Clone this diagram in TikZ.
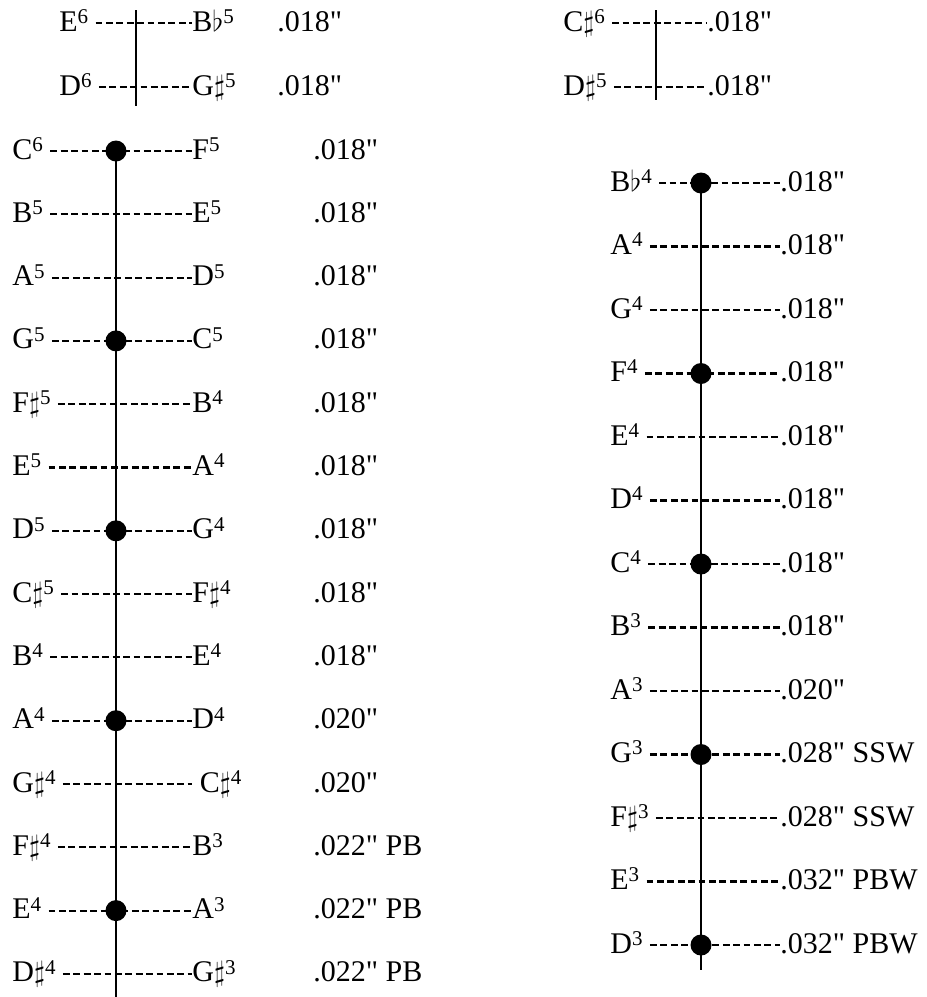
\documentclass[tikz,border=0pt]{standalone}
\usepackage{fontspec}
\setmainfont{Liberation Serif}[Ligatures=TeXOff]
\usetikzlibrary{positioning}
\newcommand{\oct}[1]{\raisebox{3.8pt}{\fontsize{10.5}{10}\selectfont#1}}
\newcommand{\shp}{$\sharp$}
\newcommand{\flt}{$\flat$}

\begin{document}
\begin{tikzpicture}[x=0.5pt, y=-0.5pt,
    lab/.style={inner sep=0pt, font=\fontsize{15}{18}\selectfont, anchor=base west},
    dashline/.style={dash pattern=on 3.4pt off 1.8pt, line width=1.05pt, shorten <=3.5pt},
    stem/.style={line width=1.35pt},
    dot/.style={circle, fill=black, inner sep=0pt, minimum size=10.5pt}]
    \useasboundingbox (0,0) rectangle (927,997);

    % top left pair
    \coordinate (tlt) at (136,10);
    \coordinate (tlb) at (136,106);
    \draw[stem] (tlt) -- (tlb);
    \foreach \i/\a/\b in {0/E\oct{6}/B\flt\oct{5}, 1/D\oct{6}/G\shp\oct{5}}{
      \node[lab] (tl\i) at (59,23+64*\i+8) {\a};
      \node[lab] (tr\i) at (192,23+64*\i+8) {\b};
      \node[lab] (tw\i) at (277,23+64*\i+8) {.018"};
      \draw[dashline] ([yshift=4pt]tl\i.base east) -- ([yshift=4pt]tr\i.base west);
    }

    % top right pair
    \coordinate (trt) at (656,10);
    \coordinate (trb) at (656,100);
    \draw[stem] (trt) -- (trb);
    \foreach \i/\a in {0/C\shp\oct{6}, 1/D\shp\oct{5}}{
      \node[lab] (ul\i) at (563,23+64*\i+8) {\a};
      \node[lab] (uw\i) at (707,23+64*\i+8) {.018"};
      \draw[dashline] ([yshift=4pt]ul\i.base east) -- ([yshift=4pt]uw\i.base west);
    }

    % left column
    \coordinate (lst) at (116,151);
    \coordinate (lsb) at (116,997);
    \draw[stem] (lst) -- (lsb);
    \foreach \i/\a/\b/\w in {0/C\oct{6}/F\oct{5}/.018",
        1/B\oct{5}/E\oct{5}/.018",
        2/A\oct{5}/D\oct{5}/.018",
        3/G\oct{5}/C\oct{5}/.018",
        4/F\shp\oct{5}/B\oct{4}/.018",
        5/E\oct{5}/A\oct{4}/.018",
        6/D\oct{5}/G\oct{4}/.018",
        7/C\shp\oct{5}/F\shp\oct{4}/.018",
        8/B\oct{4}/E\oct{4}/.018",
        9/A\oct{4}/D\oct{4}/.020",
        10/G\shp\oct{4}/\ C\shp\oct{4}/.020",
        11/F\shp\oct{4}/B\oct{3}/.022" PB,
        12/E\oct{4}/A\oct{3}/.022" PB,
        13/D\shp\oct{4}/G\shp\oct{3}/.022" PB}{
      \node[lab] (ll\i) at (12,151+63.3*\i+8) {\a};
      \node[lab] (lr\i) at (192,151+63.3*\i+8) {\b};
      \node[lab] (lw\i) at (313,151+63.3*\i+8) {\w};
      \draw[dashline] ([yshift=4pt]ll\i.base east) -- ([yshift=4pt]lr\i.base west);
    }
    \foreach \i in {0,3,...,12}
      \node[dot] (ld\i) at (116,151+63.3*\i) {};

    % right column
    \coordinate (rst) at (701,183);
    \coordinate (rsb) at (701,970);
    \draw[stem] (rst) -- (rsb);
    \foreach \i/\a/\w in {0/B\flt\oct{4}/.018",
        1/A\oct{4}/.018",
        2/G\oct{4}/.018",
        3/F\oct{4}/.018",
        4/E\oct{4}/.018",
        5/D\oct{4}/.018",
        6/C\oct{4}/.018",
        7/B\oct{3}/.018",
        8/A\oct{3}/.020",
        9/G\oct{3}/.028" SSW,
        10/F\shp\oct{3}/.028" SSW,
        11/E\oct{3}/.032" PBW,
        12/D\oct{3}/.032" PBW}{
      \node[lab] (rl\i) at (610,183+63.5*\i+8) {\a};
      \node[lab] (rw\i) at (780,183+63.5*\i+8) {\w};
      \draw[dashline] ([yshift=4pt]rl\i.base east) -- ([yshift=4pt]rw\i.base west);
    }
    \foreach \i in {0,3,...,12}
      \node[dot] (rd\i) at (701,183+63.5*\i) {};
\end{tikzpicture}
\end{document}
